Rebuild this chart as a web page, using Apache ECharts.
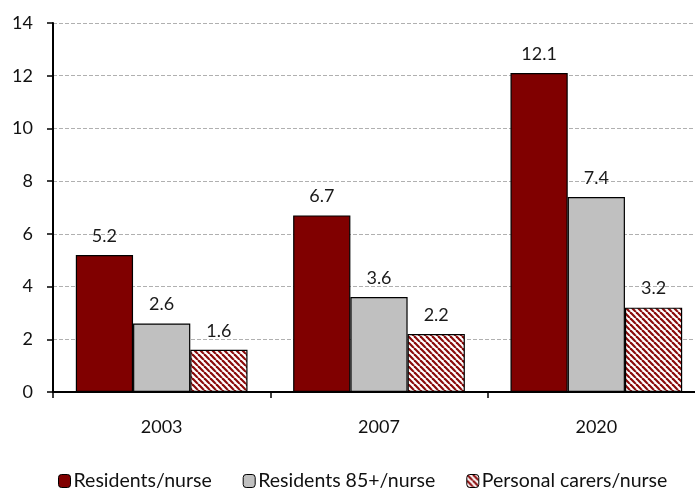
<!DOCTYPE html>
<html>
<head>
<meta charset="utf-8">
<script src="https://cdn.jsdelivr.net/npm/echarts@6/dist/echarts.min.js"></script>
<style>
  html, body { margin: 0; padding: 0; background: #fff; overflow: hidden; }
  #chart { width: 712px; height: 490px; }
</style>
</head>
<body>
<div id="chart"></div>
<script>
// data
const years = ['2003', '2007', '2020']
const residentsPerNurse = [5.2, 6.7, 12.1]
const residents85PerNurse = [2.6, 3.6, 7.4]
const carersPerNurse = [1.6, 2.2, 3.2]
const seriesNames = ['Residents/nurse', 'Residents 85+/nurse', 'Personal carers/nurse']

const FONT = 'Lato, "Open Sans", sans-serif'

// hatch pattern: dark red diagonal stripes on white
const makeHatch = () => {
  const c = document.createElement('canvas')
  const s = 6
  c.width = s
  c.height = s
  const ctx = c.getContext('2d')
  ctx.fillStyle = '#ffffff'
  ctx.fillRect(0, 0, s, s)
  ctx.strokeStyle = '#8b0a0a'
  ctx.lineWidth = 2.2
  for (let k = -1; k <= 1; k++) {
    ctx.beginPath()
    ctx.moveTo(k * s, 0)
    ctx.lineTo(k * s + s, s)
    ctx.stroke()
  }
  return c
}
const hatch = makeHatch()

const chart = echarts.init(document.getElementById('chart'))

const labelStyle = {
  show: true,
  position: 'top',
  distance: 10,
  color: '#1a1a1a',
  fontSize: 18,
  fontFamily: FONT
}

const barBase = (name, data, color) => ({
  name: name,
  type: 'bar',
  data: data,
  barGap: '0%',
  barCategoryGap: '21%',
  itemStyle: {
    color: color,
    borderColor: '#000',
    borderWidth: 1.2
  },
  label: labelStyle
})

const option = {
  animation: false,
  backgroundColor: '#fff',
  grid: {
    left: 53,
    width: 652,
    top: 23,
    height: 369,
    containLabel: false
  },
  legend: {
    top: 466,
    left: 53,
    itemWidth: 12,
    itemHeight: 13,
    itemGap: 31,
    textStyle: { fontSize: 19.5, color: '#111', fontFamily: FONT, padding: [0, 0, 0, -2] },
    data: seriesNames.map((n, i) => ({
      name: n,
      itemStyle: { borderColor: '#000', borderWidth: 1 }
    }))
  },
  xAxis: {
    type: 'category',
    data: years,
    axisLine: { lineStyle: { color: '#000', width: 2 } },
    axisTick: { show: true, length: 6, lineStyle: { color: '#000', width: 1.5 } },
    axisLabel: { fontSize: 18, color: '#111', fontFamily: FONT, margin: 26 }
  },
  yAxis: {
    type: 'value',
    min: 0,
    max: 14,
    interval: 2,
    axisLine: { show: true, lineStyle: { color: '#000', width: 2 } },
    axisTick: { show: true, length: 6, lineStyle: { color: '#000', width: 1.5 } },
    axisLabel: { fontSize: 18, color: '#111', fontFamily: FONT, margin: 20 },
    splitLine: { show: true, lineStyle: { color: '#b0b0b0', type: [4, 2], width: 1 } }
  },
  series: [
    barBase(seriesNames[0], residentsPerNurse, '#800000'),
    barBase(seriesNames[1], residents85PerNurse, '#c0c0c0'),
    barBase(seriesNames[2], carersPerNurse, { image: hatch, repeat: 'repeat' })
  ]
}

chart.setOption(option)
</script>
</body>
</html>
